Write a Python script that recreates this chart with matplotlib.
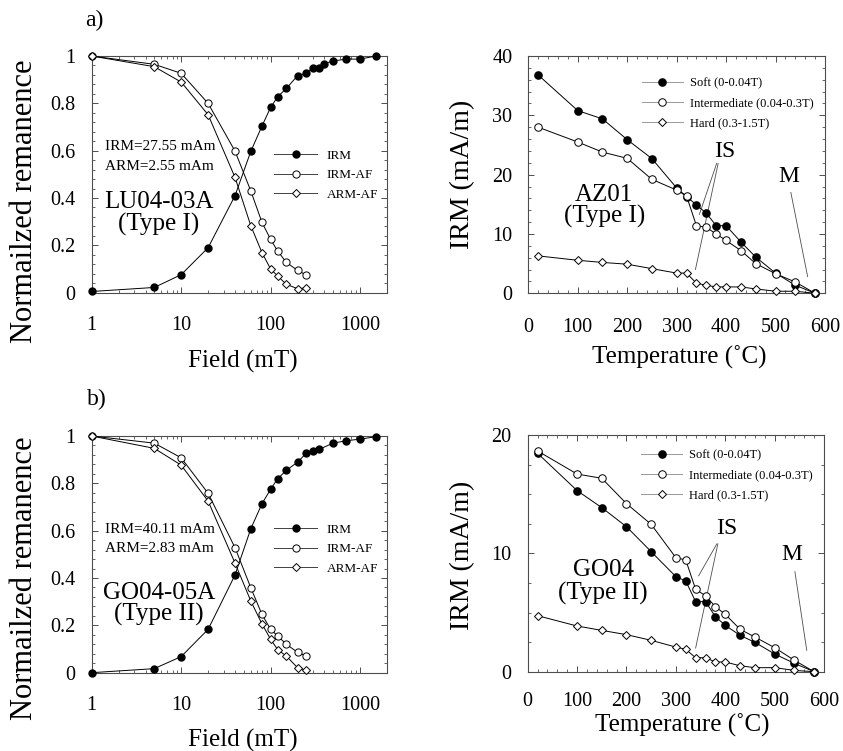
import matplotlib
matplotlib.use("Agg")
import matplotlib.pyplot as plt
from matplotlib.ticker import MultipleLocator, LogLocator, NullFormatter, FixedLocator, FixedFormatter

plt.rcParams['font.family'] = ['Liberation Serif', 'DejaVu Serif']
plt.rcParams['mathtext.fontset'] = 'stix'

# ---------------- data ----------------
# Panel a (LU04-03A)
a_irm_field = [1, 5, 10, 20, 40, 60, 80, 100, 120, 150, 200, 250, 300, 350, 400, 500, 700, 1000, 1500]
a_irm_val = [0.005, 0.022, 0.076, 0.19, 0.41, 0.597, 0.704, 0.783, 0.828, 0.863, 0.917, 0.927,
             0.951, 0.951, 0.968, 0.979, 0.987, 0.987, 1.0]
a_af_field = [1, 5, 10, 20, 40, 60, 80, 100, 120, 150, 200, 250]
a_irmaf_val = [1.0, 0.965, 0.927, 0.80, 0.598, 0.43, 0.297, 0.225, 0.175, 0.128, 0.094, 0.075]
a_armaf_val = [1.0, 0.955, 0.89, 0.752, 0.487, 0.283, 0.169, 0.10, 0.07, 0.035, 0.017, 0.02]

# Panel b (GO04-05A)
b_irm_field = [1, 5, 10, 20, 40, 60, 80, 100, 120, 150, 200, 250, 300, 350, 500, 700, 1000, 1500]
b_irm_val = [0.0, 0.017, 0.068, 0.183, 0.413, 0.608, 0.714, 0.775, 0.82, 0.855, 0.89, 0.927,
             0.937, 0.944, 0.97, 0.98, 0.987, 0.997]
b_af_field = [1, 5, 10, 20, 40, 60, 80, 100, 120, 150, 200, 250]
b_irmaf_val = [1.0, 0.97, 0.908, 0.758, 0.528, 0.359, 0.246, 0.183, 0.155, 0.12, 0.086, 0.07]
b_armaf_val = [1.0, 0.948, 0.877, 0.725, 0.463, 0.303, 0.206, 0.141, 0.097, 0.07, 0.021, 0.01]

# Thermal demagnetisation of 3-axis IRM
temps = [20, 100, 150, 200, 250, 300, 320, 340, 360, 380, 400, 430, 460, 500, 540, 580]
az_soft = [36.8, 30.8, 29.4, 25.9, 22.7, 17.75, 16.3, 14.9, 13.5, 11.4, 11.4, 8.65, 6.1, 3.4, 1.35, 0.0]
az_inter = [28.0, 25.5, 23.8, 22.75, 19.2, 17.4, 16.4, 11.4, 11.1, 10.0, 8.9, 7.2, 5.0, 3.3, 1.9, 0.0]
az_hard = [6.3, 5.56, 5.2, 4.9, 4.15, 3.4, 3.4, 1.7, 1.35, 1.07, 1.07, 1.07, 0.73, 0.34, 0.34, 0.0]

go_soft = [18.45, 15.3, 13.86, 12.25, 10.14, 8.03, 7.66, 5.92, 5.92, 4.65, 3.92, 3.07, 2.48, 1.5, 0.7, 0.0]
go_inter = [18.65, 16.7, 16.34, 14.2, 12.45, 9.63, 9.44, 6.96, 6.42, 5.49, 4.85, 3.58, 2.93, 2.03, 0.96, 0.0]
go_hard = [4.73, 3.86, 3.49, 3.13, 2.65, 2.08, 1.89, 1.18, 1.18, 0.82, 0.82, 0.5, 0.34, 0.34, 0.11, 0.0]

af_labels = ['IRM', 'IRM-AF', 'ARM-AF']
th_labels = ['Soft (0-0.04T)', 'Intermediate (0.04-0.3T)', 'Hard (0.3-1.5T)']
field_ticks = [1, 10, 100, 1000]
field_ticklabels = ['1', '10', '100', '1000']

# ---------------- figure ----------------
fig = plt.figure(figsize=(8.43, 7.51), dpi=100)

axTL = fig.add_axes([0.1088, 0.6103, 0.3503, 0.3151])
axBL = fig.add_axes([0.1088, 0.1043, 0.3503, 0.3151])
axTR = fig.add_axes([0.6267, 0.6095, 0.3519, 0.3159])
axBR = fig.add_axes([0.6260, 0.1056, 0.3515, 0.3152])

LW = 0.7
SPINE = '0.3'


def style(ax, xpad):
    for s in ax.spines.values():
        s.set_color(SPINE)
        s.set_linewidth(0.8)
    ax.tick_params(which='both', direction='in', top=True, right=True, color=SPINE)
    ax.tick_params(which='major', length=4, width=0.7, labelsize=14.5)
    ax.tick_params(which='minor', length=2, width=0.6)
    ax.tick_params(axis='x', pad=xpad)
    ax.tick_params(axis='y', pad=11.5)


def af_panel(ax, irm_f, irm_v, af_f, irmaf_v, armaf_v, leg_y):
    ax.set_xscale('log')
    ax.set_xlim(1, 2000)
    ax.set_ylim(0, 1)
    l1, = ax.plot(irm_f, irm_v, '-o', color='black', lw=LW, ms=5, mfc='black', mec='black',
                  clip_on=False, zorder=3)
    l2, = ax.plot(af_f, irmaf_v, '-o', color='black', lw=LW, ms=5.2, mfc='white', mec='black',
                  mew=0.7, clip_on=False, zorder=3)
    l3, = ax.plot(af_f, armaf_v, '-D', color='black', lw=LW, ms=4.4, mfc='white', mec='black',
                  mew=0.7, clip_on=False, zorder=3)
    ax.xaxis.set_major_locator(FixedLocator(field_ticks))
    ax.xaxis.set_major_formatter(FixedFormatter(field_ticklabels))
    ax.xaxis.set_minor_locator(LogLocator(base=10, subs=range(2, 10)))
    ax.xaxis.set_minor_formatter(NullFormatter())
    ax.set_yticks([0, 0.2, 0.4, 0.6, 0.8, 1.0])
    ax.set_yticklabels(['0', '0.2', '0.4', '0.6', '0.8', '1'])
    ax.yaxis.set_minor_locator(MultipleLocator(0.04))
    style(ax, 16.5)
    leg = ax.legend([l1, l2, l3], af_labels, loc='upper left', bbox_to_anchor=(0.617, leg_y),
                    frameon=False, fontsize=9.5, handlelength=3.3, handletextpad=0.7,
                    labelspacing=0.56, borderpad=0, borderaxespad=0)
    for h in leg.get_lines():
        h.set_color('0.25')
    ax.set_xlabel('Field (mT)', fontsize=18, va='center')
    ax.xaxis.set_label_coords(0.513, -0.29)
    ax.set_ylabel('Normailzed remanence', fontsize=22, va='center')


def th_panel(ax, soft, inter, hard, ymax, yminor, leg_y, xpad):
    ax.set_xlim(0, 600)
    ax.set_ylim(0, ymax)
    l1, = ax.plot(temps, soft, '-o', color='black', lw=LW, ms=5.2, mfc='black', mec='black',
                  clip_on=False, zorder=3)
    l2, = ax.plot(temps, inter, '-o', color='black', lw=LW, ms=5.4, mfc='white', mec='black',
                  mew=0.7, clip_on=False, zorder=3)
    l3, = ax.plot(temps, hard, '-D', color='black', lw=LW, ms=4.5, mfc='white', mec='black',
                  mew=0.7, clip_on=False, zorder=3)
    ax.xaxis.set_major_locator(MultipleLocator(100))
    ax.xaxis.set_minor_locator(MultipleLocator(20))
    ax.yaxis.set_major_locator(MultipleLocator(10))
    ax.yaxis.set_minor_locator(MultipleLocator(yminor))
    style(ax, xpad)
    leg = ax.legend([l1, l2, l3], th_labels, loc='upper left', bbox_to_anchor=(0.382, leg_y),
                    frameon=False, fontsize=9, handlelength=3.3, handletextpad=0.56,
                    labelspacing=0.66, borderpad=0, borderaxespad=0)
    for h in leg.get_lines():
        h.set_color('0.6')
    ax.set_xlabel('Temperature (˚C)', fontsize=18, va='center')
    ax.set_ylabel('IRM (mA/m)', fontsize=20, va='center')
    ax.yaxis.set_label_coords(-0.22, 0.5)


af_panel(axTL, a_irm_field, a_irm_val, a_af_field, a_irmaf_val, a_armaf_val, 0.605)
af_panel(axBL, b_irm_field, b_irm_val, b_af_field, b_irmaf_val, b_armaf_val, 0.63)
axTL.yaxis.set_label_coords(-0.229, 0.385)
axBL.yaxis.set_label_coords(-0.229, 0.40)
axBL.xaxis.set_label_coords(0.513, -0.287)

th_panel(axTR, az_soft, az_inter, az_hard, 40, 2, 0.912, 18)
th_panel(axBR, go_soft, go_inter, go_hard, 20, 2.5, 0.94, 14.5)
axTR.xaxis.set_label_coords(0.51, -0.27)
axBR.xaxis.set_label_coords(0.52, -0.226)
axBR.yaxis.set_label_coords(-0.22, 0.49)

# ---- annotations, left panels ----
for ax, irm_t, arm_t, name, typ, ys in [
        (axTL, 'IRM=27.55 mAm', 'ARM=2.55 mAm', 'LU04-03A', '(Type I)', (0.617, 0.535, 0.385, 0.29)),
        (axBL, 'IRM=40.11 mAm', 'ARM=2.83 mAm', 'GO04-05A', '(Type II)', (0.606, 0.525, 0.338, 0.246))]:
    ax.text(0.046, ys[0], irm_t, transform=ax.transAxes, fontsize=11, ha='left', va='center')
    ax.text(0.046, ys[1], arm_t, transform=ax.transAxes, fontsize=11, ha='left', va='center')
    ax.text(0.228, ys[2], name, transform=ax.transAxes, fontsize=18, ha='center', va='center')
    ax.text(0.228, ys[3], typ, transform=ax.transAxes, fontsize=18, ha='center', va='center')

# ---- annotations, right panels ----
axTR.text(152, 16.5, 'AZ01', fontsize=18, ha='center', va='center')
axTR.text(154, 12.9, '(Type I)', fontsize=18, ha='center', va='center')
axTR.text(398, 23.9, 'IS', fontsize=17, ha='center', va='center')
axTR.text(526, 19.7, 'M', fontsize=17, ha='center', va='center')
axTR.plot([381, 346], [21.9, 13.3], color='0.3', lw=0.6)
axTR.plot([384, 338], [21.9, 4.0], color='0.3', lw=0.6)
axTR.plot([531, 565], [17.0, 2.8], color='0.3', lw=0.6)

axBR.text(153, 8.6, 'GO04', fontsize=18, ha='center', va='center')
axBR.text(153, 6.6, '(Type II)', fontsize=18, ha='center', va='center')
axBR.text(403, 12.1, 'IS', fontsize=17, ha='center', va='center')
axBR.text(534, 9.9, 'M', fontsize=17, ha='center', va='center')
axBR.plot([383, 346], [10.8, 8.1], color='0.3', lw=0.6)
axBR.plot([385, 340], [10.8, 2.0], color='0.3', lw=0.6)
axBR.plot([541, 565], [8.45, 1.8], color='0.3', lw=0.6)

# panel letters
fig.text(94 / 843, 1 - 20 / 751, 'a)', fontsize=17, ha='center', va='center')
fig.text(97 / 843, 1 - 399 / 751, 'b)', fontsize=17, ha='center', va='center')

fig.savefig('out.png', dpi=100)
